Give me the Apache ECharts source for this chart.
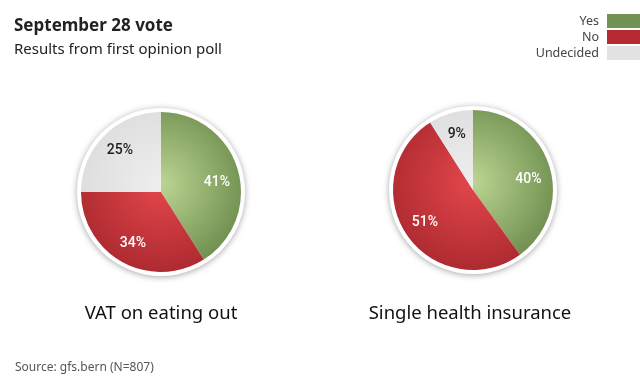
<!DOCTYPE html>
<html><head><meta charset="utf-8">
<script src="https://cdn.jsdelivr.net/npm/echarts@6/dist/echarts.min.js"></script>
<style>html,body{margin:0;padding:0;background:#fff}#c{width:640px;height:388px}</style>
</head><body><div id="c"></div>
<script>
const categories = ['Yes', 'No', 'Undecided'];
const vatValues = [41, 34, 25];
const healthValues = [40, 51, 9];
const pieTitles = ['VAT on eating out', 'Single health insurance'];

const chart = echarts.init(document.getElementById('c'), null, {renderer: 'canvas'});
const R = 80;
const centers = [[161, 192], [473, 190]];
function grads(cx, cy) {
  const g = (inner, outer) => ({type: 'radial', x: cx, y: cy - 8, r: R + 10, global: true,
    colorStops: [{offset: 0, color: inner}, {offset: 1, color: outer}]});
  return [g('#bcd592', '#6d8d4e'), g('#e3474c', '#ad2a30'), g('#eeeeee', '#dcdcdc')];
}
const legendColors = ['#739255', '#b52b30', '#e2e2e2'];
function pieSeries(values, idx) {
  const [cx, cy] = centers[idx];
  const gs = grads(cx, cy);
  return [{
    type: 'pie', silent: true, center: [cx, cy], radius: R + 4, z: 1,
    label: {show: false}, labelLine: {show: false},
    itemStyle: {color: '#fff', shadowBlur: 6, shadowColor: 'rgba(0,0,0,0.35)', shadowOffsetY: 1},
    data: [{value: 1, name: '_bg' + idx}], tooltip: {show: false}
  }, {
    type: 'pie', name: pieTitles[idx], center: [cx, cy], radius: R, z: 2,
    startAngle: 90, clockwise: true,
    label: {show: false}, labelLine: {show: false},
    itemStyle: {borderWidth: 0},
    data: categories.map((n, i) => ({value: values[i], name: n, itemStyle: {color: gs[i]}}))
  }, {
    // transparent carrier for labels placed at ~0.68 of the radius
    type: 'pie', silent: true, center: [cx, cy], radius: [0, 2 * 0.69 * R], z: 3,
    startAngle: 90, clockwise: true, legendHoverLink: false,
    label: {position: 'inner', formatter: '{c}%', fontFamily: 'Roboto', fontSize: 14, fontWeight: 500,
      color: '#fff'},
    labelLine: {show: false},
    itemStyle: {color: 'rgba(0,0,0,0)'},
    data: categories.map((n, i) => ({value: values[i], name: '_l' + n,
      label: i === 0 ? {offset: [0, 7]} : (i === 2 ? {color: '#222'} : {})}))
  }];
}
chart.setOption({
  animation: false,
  color: legendColors,
  title: [
    {text: 'September 28 vote', left: 9, top: 13, textStyle: {fontFamily: 'Noto Sans', fontSize: 17, fontWeight: 'bold', color: '#222'}},
    {text: 'Results from first opinion poll', left: 9, top: 37, textStyle: {fontFamily: 'Noto Sans', fontSize: 15, fontWeight: 'normal', color: '#222'}},
    {text: pieTitles[0], left: 156, textAlign: 'center', top: 299, textStyle: {fontFamily: 'Noto Sans', fontSize: 18.5, fontWeight: 'normal', color: '#111'}},
    {text: pieTitles[1], left: 465, textAlign: 'center', top: 299, textStyle: {fontFamily: 'Noto Sans', fontSize: 18.5, fontWeight: 'normal', color: '#111'}},
    {text: 'Source: gfs.bern (N=807)', left: 10, top: 357, textStyle: {fontFamily: 'Noto Sans', fontSize: 12, fontWeight: 'normal', color: '#555'}}
  ],
  legend: {
    orient: 'vertical', right: 0, top: 14, padding: 0, align: 'right', itemWidth: 33, itemHeight: 14, itemGap: 2,
    icon: 'rect', selectedMode: false,
    textStyle: {fontFamily: 'Noto Sans', fontSize: 12.5, color: '#444', padding: [0, 3, 0, 0]},
    data: categories.map((n, i) => ({name: n, itemStyle: {color: legendColors[i]}}))
  },
  series: [...pieSeries(vatValues, 0), ...pieSeries(healthValues, 1)]
});
</script></body></html>
